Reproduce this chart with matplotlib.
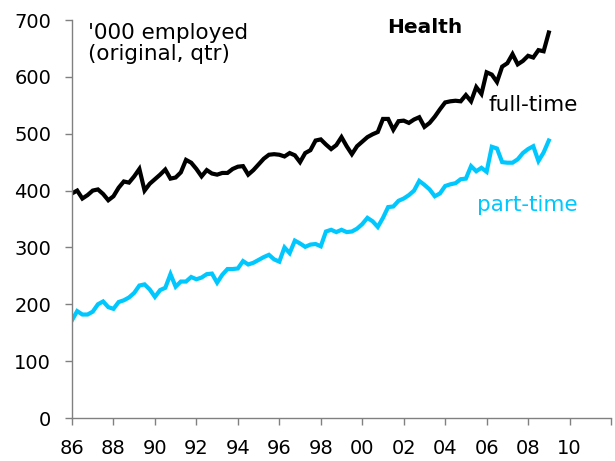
"""Health employment, full-time vs part-time, quarterly '000 (original series)."""
import matplotlib
matplotlib.use("Agg")
import matplotlib.pyplot as plt
import numpy as np

START_YEAR = 1986
QTR = 0.25

full_time = [395, 400, 386, 392, 400, 402, 394, 383, 390, 405, 416, 414, 425, 438, 400, 412,
             420, 428, 437, 421, 423, 432, 454, 449, 438, 425, 436, 430, 428, 431, 431, 438,
             442, 443, 428, 436, 446, 456, 463, 464, 463, 460, 466, 462, 450, 466, 471, 488,
             490, 481, 473, 480, 494, 478, 464, 478, 486, 494, 499, 503, 526, 526, 507, 522,
             523, 519, 525, 529, 512, 519, 530, 543, 555, 557, 558, 557, 568, 557, 582, 570,
             608, 604, 591, 618, 624, 640, 622, 628, 637, 634, 647, 645, 678]
part_time = [172, 188, 182, 182, 187, 200, 205, 195, 192, 204, 207, 212, 220, 233, 235, 226,
             213, 225, 229, 253, 231, 240, 240, 248, 244, 247, 253, 254, 238, 252, 262, 262,
             263, 276, 270, 273, 278, 283, 287, 279, 275, 300, 290, 312, 307, 301, 305, 306,
             302, 328, 331, 327, 331, 327, 328, 333, 341, 352, 346, 336, 352, 371, 372, 382,
             386, 392, 400, 417, 410, 402, 390, 395, 408, 411, 413, 420, 421, 443, 434, 440,
             433, 477, 474, 450, 449, 449, 455, 466, 473, 478, 452, 467, 488]

xtick_years = list(range(1986, 2013, 2))
xtick_labels = ["86", "88", "90", "92", "94", "96", "98", "00", "02", "04", "06", "08", "10", ""]
yticks = [0, 100, 200, 300, 400, 500, 600, 700]

t = START_YEAR + QTR * np.arange(len(full_time))

fig = plt.figure(figsize=(6.15, 4.61), dpi=100)
ax = fig.add_axes([72 / 615, 43 / 461, 539 / 615, 398 / 461])

ax.plot(t, full_time, color="black", lw=3, solid_joinstyle="miter")
ax.plot(t, part_time, color="#00C8FF", lw=3, solid_joinstyle="miter")

ax.set_xlim(1986, 2012); ax.set_ylim(0, 700)
ax.set_xticks(xtick_years); ax.set_xticklabels(xtick_labels)
ax.set_yticks(yticks)
for s in ["top", "right"]:
    ax.spines[s].set_visible(False)
for s in ["left", "bottom"]:
    ax.spines[s].set_color("#808080"); ax.spines[s].set_linewidth(1)
ax.tick_params(axis="both", colors="#808080", labelcolor="black", labelsize=14, length=5, width=1)
ax.tick_params(axis="x", pad=10)
ax.tick_params(axis="y", pad=10)

ax.text(1986.75, 659, "'000 employed\n(original, qtr)", fontsize=15.5, va="center", ha="left",
        linespacing=1.1)
ax.text(2003.0, 686, "Health", fontsize=14.5, fontweight="bold", ha="center", va="center")
ax.text(2006.1, 550, "full-time", fontsize=15.5, ha="left", va="center")
ax.text(2005.55, 375, "part-time", fontsize=15.5, ha="left", va="center", color="#00C8FF")

fig.savefig("out.png", dpi=100)
